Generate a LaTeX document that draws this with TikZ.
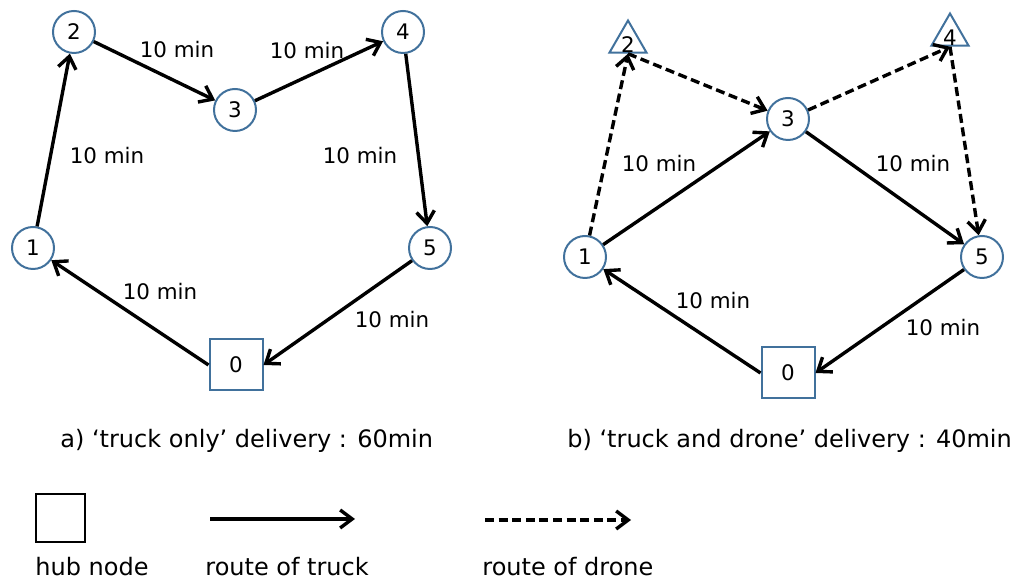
\documentclass[tikz,border=0pt]{standalone}
\usepackage{fontspec}
\setmainfont{DejaVu Sans}
\usetikzlibrary{arrows.meta,shapes.geometric}
\definecolor{nodeblue}{HTML}{41719C}
\begin{document}
\begin{tikzpicture}[x=0.5pt,y=-0.5pt,
  every node/.style={font=\fontsize{10.7}{12}\selectfont, inner sep=0pt},
  stop/.style={circle, draw=nodeblue, line width=1pt, minimum size=21pt},
  hub/.style={rectangle, draw=nodeblue, line width=1pt, minimum width=26.5pt, minimum height=25.5pt},
  drop/.style={regular polygon, regular polygon sides=3, draw=nodeblue, line width=1pt, minimum size=21.5pt},
  truck/.style={line width=1.7pt, -{Straight Barb[length=6pt,width=9pt]}},
  drone/.style={truck, dash pattern=on 4.5pt off 2.3pt},
  caption/.style={font=\fontsize{12}{14}\selectfont, anchor=base west}]
\useasboundingbox (0,0) rectangle (1023,581);

% ---- a) truck only ----
\node[stop] (a1) at (33,248) {1};
\node[stop] (a2) at (74,32) {2};
\node[stop] (a3) at (235,110) {3};
\node[stop] (a4) at (403,32) {4};
\node[stop] (a5) at (430,248) {5};
\node[hub]  (a0) at (236,365) {0};

\draw[truck] (a1) -- (a2);
\draw[truck] (a2) -- (a3);
\draw[truck] (a3) -- (a4);
\draw[truck] (a4) -- (a5);
\draw[truck] (a5) -- (a0.east);
\draw[truck] (a0.west) -- (a1);

\node (la23) at (177,50) {10 min};
\node (la34) at (307,51) {10 min};
\node (la12) at (107,156) {10 min};
\node (la45) at (360,156) {10 min};
\node (la01) at (160,292) {10 min};
\node (la50) at (392,320) {10 min};

% ---- b) truck and drone ----
\node[stop] (b1) at (585,257) {1};
\node[drop, label={[yshift=-1.5pt]center:2}] (b2) at (628,42) {};
\node[stop] (b3) at (788,119) {3};
\node[drop, label={[yshift=-1.5pt]center:4}] (b4) at (950,35) {};
\node[stop] (b5) at (982,257) {5};
\node[hub]  (b0) at (788,373) {0};

\draw[truck] (b1) -- (b3);
\draw[truck] (b3) -- (b5);
\draw[truck] (b5) -- (b0.east);
\draw[truck] (b0.west) -- (b1);
\draw[drone] (b1) -- (b2.south);
\draw[drone] (b2.south) -- (b3);
\draw[drone] (b3) -- (b4.south);
\draw[drone] (b4.south) -- (b5);

\node (lb13) at (659,164) {10 min};
\node (lb35) at (913,164) {10 min};
\node (lb01) at (713,301) {10 min};
\node (lb50) at (943,328) {10 min};

% ---- captions ----
\node[caption] (capa) at (60,448) {a) ‘truck only’ delivery : 60min};
\node[caption] (capb) at (567,448) {b) ‘truck and drone’ delivery : 40min};

% ---- legend ----
\node[draw=black, line width=1pt, minimum width=24.5pt, minimum height=24pt] (lhub) at (60.5,518) {};
\coordinate (lt1) at (210,519);
\coordinate (lt2) at (355,519);
\draw[truck] (lt1) -- (lt2);
\coordinate (ld1) at (485,520);
\coordinate (ld2) at (631,520);
\draw[drone] (ld1) -- (ld2);

\node[caption] (txhub) at (35,576) {hub node};
\node[caption] (txtruck) at (205,576) {route of truck};
\node[caption] (txdrone) at (482,576) {route of drone};
\end{tikzpicture}
\end{document}
